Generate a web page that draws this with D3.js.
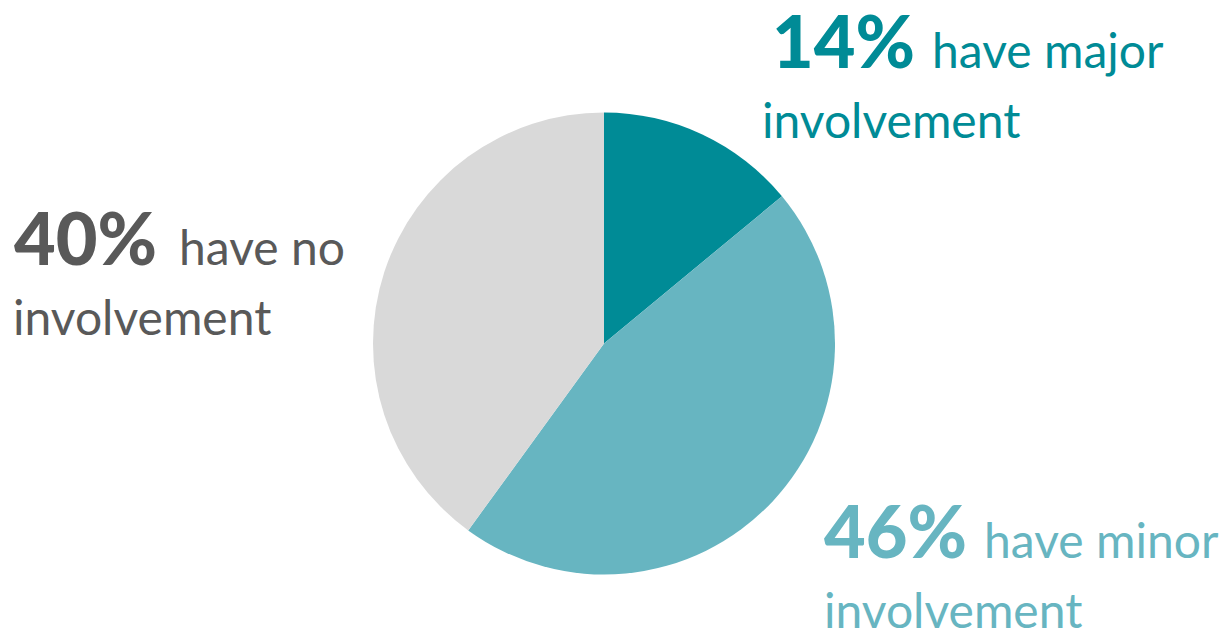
<!DOCTYPE html>
<html>
<head>
<meta charset="utf-8">
<script src="https://cdn.jsdelivr.net/npm/d3@7"></script>
<style>
  body { margin: 0; background: #fff; }
  svg { display: block; }
</style>
</head>
<body>
<div id="chart"></div>
<script>
// Data.
const categories = ['major', 'minor', 'no'];
const shares = [14, 46, 40];
const sliceColors = ['#008b96', '#67b5c1', '#d9d9d9'];
const textColors = ['#008b96', '#67b5c1', '#595959'];

// Dimensions.
const width = 1228;
const height = 634;
const cx = 604;
const cy = 343.5;
const radius = 231;

const svg = d3.select('#chart')
  .append('svg')
  .attr('width', width)
  .attr('height', height);

// Pie.
const pie = d3.pie().sort(null).value(d => d);
const arc = d3.arc().innerRadius(0).outerRadius(radius);

svg.append('g')
  .attr('transform', `translate(${cx}, ${cy})`)
  .selectAll('path')
  .data(pie(shares))
  .enter()
  .append('path')
  .attr('d', arc)
  .style('fill', (d, i) => sliceColors[i]);

// Labels: where each one sits (x of first line, baseline of first line).
const labelPos = [
  { x: 772, y: 68, x2: 762 },
  { x: 824, y: 558, x2: 824 },
  { x: 14, y: 265, x2: 13 }
];
const lineGap = 70;

const labels = svg.append('g')
  .style('font-family', 'Lato, "Open Sans", sans-serif');

categories.forEach((c, i) => {
  const p = labelPos[i];
  const t = labels.append('text')
    .attr('x', p.x)
    .attr('y', p.y)
    .style('fill', textColors[i]);
  t.append('tspan')
    .text(shares[i] + '%')
    .style('font-size', '72px')
    .style('font-weight', 900);
  t.append('tspan')
    .attr('dx', i === 2 ? 22 : 17)
    .text('have ' + c)
    .style('font-size', '48px');
  labels.append('text')
    .attr('x', p.x2)
    .attr('y', p.y + lineGap)
    .style('fill', textColors[i])
    .style('font-size', '48px')
    .text('involvement');
});
</script>
</body>
</html>
